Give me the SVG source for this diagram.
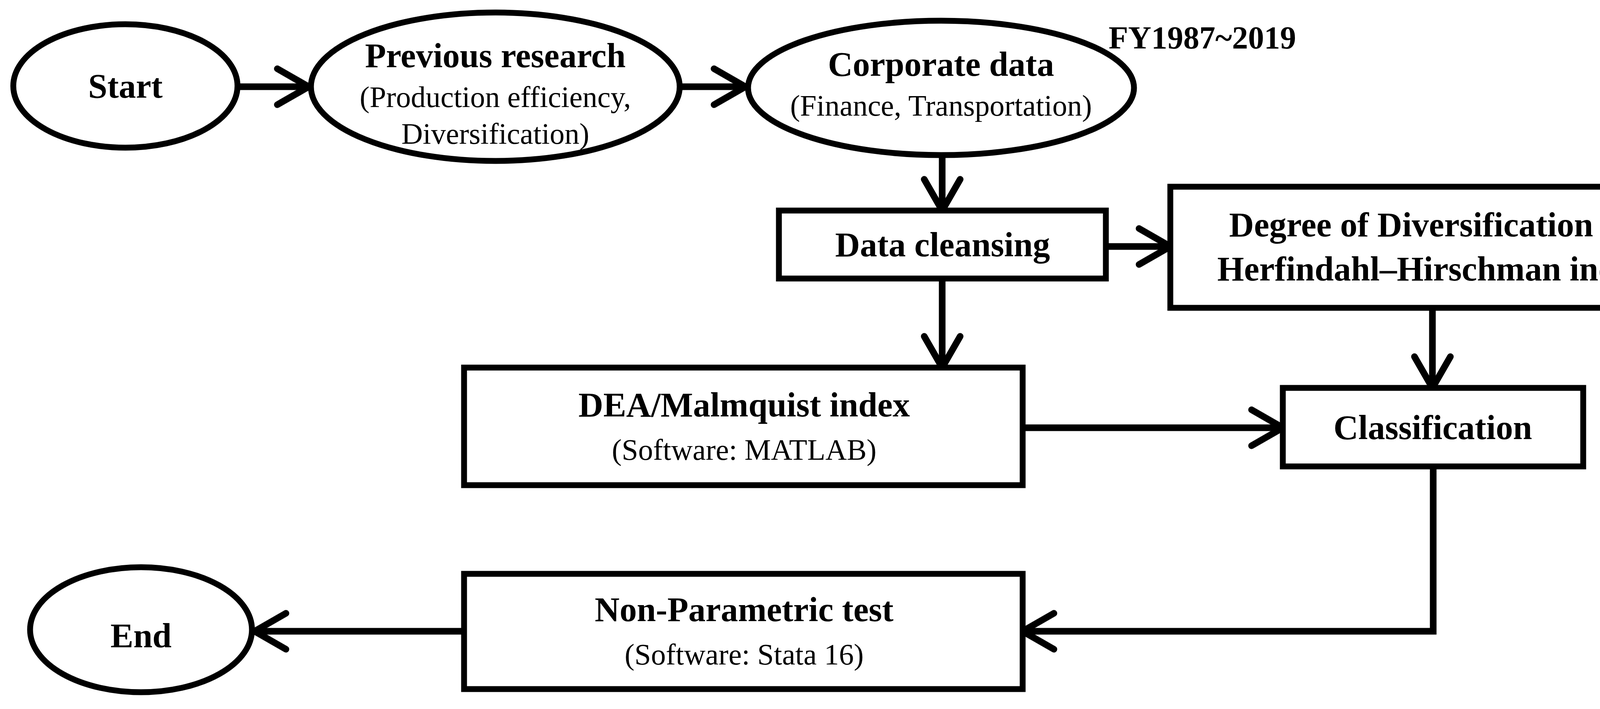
<svg xmlns="http://www.w3.org/2000/svg" width="4382" height="1815" viewBox="0 0 4382 1815">
<style>
.s{fill:#fff;stroke:#000;stroke-width:15}
.b{font-family:"Liberation Serif",serif;font-weight:bold;font-size:88px;text-anchor:middle}
.r{font-family:"Liberation Serif",serif;font-size:76px;text-anchor:middle}
.c{fill:none;stroke:#000;stroke-width:17;marker-end:url(#a)}
</style>
<defs>
<marker id="a" markerUnits="userSpaceOnUse" markerWidth="120" markerHeight="120" viewBox="0 0 120 120" refX="100" refY="60" orient="auto">
<path d="M20,14 L100,60 L20,106" fill="none" stroke="#000" stroke-width="17" stroke-linecap="round"/>
</marker>
</defs>
<rect width="4382" height="1815" fill="#fff"/>
<g id="connectors">
<path class="c" d="M615,222 H790"/>
<path class="c" d="M1745,222 H1908"/>
<path class="c" d="M2412,400 V539"/>
<path class="c" d="M2831,631 H2996"/>
<path class="c" d="M2412,713 V941"/>
<path class="c" d="M3667,788 V993"/>
<path class="c" d="M2618,1095 H3284"/>
<path class="c" d="M3669,1194 V1616 H2618"/>
<path class="c" d="M1188,1616 H652"/>
</g>
<g id="start"><ellipse class="s" cx="321" cy="220" rx="287" ry="158"/><text class="b" x="321" y="250">Start</text></g>
<g id="previous"><ellipse class="s" cx="1268" cy="222" rx="472" ry="190"/><text class="b" x="1268" y="172">Previous research</text><text class="r" x="1268" y="274">(Production efficiency,</text><text class="r" x="1268" y="368">Diversification)</text></g>
<g id="corporate"><ellipse class="s" cx="2409" cy="225" rx="494" ry="172"/><text class="b" x="2409" y="194">Corporate data</text><text class="r" x="2409" y="296">(Finance, Transportation)</text></g>
<text class="b" x="3078" y="124" style="font-size:82px">FY1987~2019</text>
<g id="cleansing"><rect class="s" x="1994" y="539" width="837" height="174"/><text class="b" x="2413" y="656">Data cleansing</text></g>
<g id="degree"><rect class="s" x="2996" y="478" width="1348" height="310"/><text class="b" x="3670" y="605">Degree of Diversification by</text><text class="b" x="3670" y="718">Herfindahl–Hirschman index</text></g>
<g id="dea"><rect class="s" x="1188" y="941" width="1430" height="301"/><text class="b" x="1905" y="1066">DEA/Malmquist index</text><text class="r" x="1905" y="1177">(Software: MATLAB)</text></g>
<g id="classification"><rect class="s" x="3284" y="993" width="769" height="201"/><text class="b" x="3668" y="1124">Classification</text></g>
<g id="nonparam"><rect class="s" x="1188" y="1469" width="1430" height="295"/><text class="b" x="1905" y="1590">Non-Parametric test</text><text class="r" x="1905" y="1701">(Software: Stata 16)</text></g>
<g id="end"><ellipse class="s" cx="361" cy="1612" rx="284" ry="160"/><text class="b" x="361" y="1657">End</text></g>
</svg>
